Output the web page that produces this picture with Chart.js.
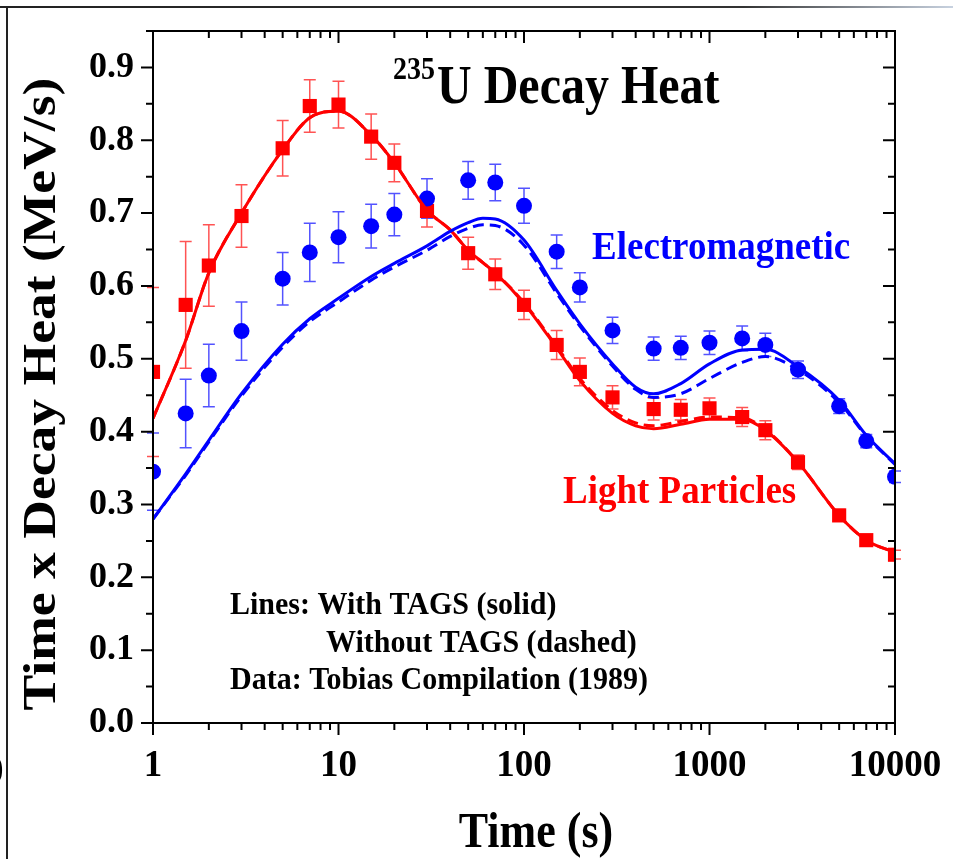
<!DOCTYPE html>
<html>
<head>
<meta charset="utf-8">
<script src="https://cdn.jsdelivr.net/npm/chart.js@4.4.1/dist/chart.umd.min.js"></script>
<style>
  html, body { margin: 0; padding: 0; background: #fff; }
  #wrap { width: 953px; height: 859px; }
</style>
</head>
<body>
<div id="wrap"><canvas id="decayChart" width="953" height="859"></canvas></div>
<script>
// Data points (Tobias compilation)
const dataTimes = [1, 1.5, 2, 3, 5, 7, 10, 15, 20, 30, 50, 70, 100, 150, 200, 300, 500, 700, 1000, 1500, 2000, 3000, 5000, 7000, 10000];
const lightValues = [0.482, 0.574, 0.628, 0.696, 0.789, 0.847, 0.849, 0.805, 0.769, 0.703, 0.645, 0.616, 0.574, 0.519, 0.482, 0.447, 0.431, 0.430, 0.432, 0.420, 0.402, 0.358, 0.285, 0.251, 0.231];
const lightErrors = [0.116, 0.087, 0.056, 0.043, 0.038, 0.036, 0.032, 0.031, 0.026, 0.022, 0.022, 0.021, 0.020, 0.020, 0.019, 0.016, 0.015, 0.014, 0.014, 0.013, 0.013, 0.010, 0.008, 0.007, 0.006];
const emValues = [0.345, 0.425, 0.477, 0.538, 0.610, 0.646, 0.667, 0.682, 0.698, 0.720, 0.745, 0.742, 0.710, 0.647, 0.598, 0.539, 0.514, 0.515, 0.522, 0.528, 0.519, 0.485, 0.435, 0.387, 0.338];
const emErrors = [0.053, 0.047, 0.043, 0.040, 0.036, 0.040, 0.035, 0.030, 0.029, 0.027, 0.026, 0.025, 0.024, 0.023, 0.020, 0.018, 0.016, 0.016, 0.016, 0.017, 0.016, 0.012, 0.010, 0.009, 0.008];

// Calculated curves
const curveTimes = [1, 1.5, 2, 3, 5, 7, 10, 15, 20, 30, 40, 50, 60, 70, 100, 150, 200, 300, 400, 500, 700, 1000, 1500, 2000, 3000, 5000, 7000, 10000];
const lightSolid = [0.418, 0.525, 0.618, 0.700, 0.787, 0.831, 0.840, 0.807, 0.769, 0.704, 0.677, 0.649, 0.632, 0.618, 0.576, 0.515, 0.470, 0.425, 0.408, 0.404, 0.410, 0.417, 0.417, 0.402, 0.358, 0.285, 0.251, 0.234];
const lightDashed = [0.418, 0.525, 0.618, 0.700, 0.787, 0.831, 0.840, 0.807, 0.769, 0.704, 0.677, 0.649, 0.632, 0.618, 0.577, 0.517, 0.473, 0.429, 0.412, 0.408, 0.414, 0.420, 0.419, 0.403, 0.358, 0.285, 0.251, 0.234];
const emSolid = [0.280, 0.342, 0.388, 0.452, 0.520, 0.555, 0.583, 0.613, 0.631, 0.655, 0.675, 0.687, 0.693, 0.692, 0.663, 0.594, 0.548, 0.493, 0.461, 0.452, 0.466, 0.493, 0.512, 0.513, 0.489, 0.443, 0.395, 0.356];
const emDashed = [0.280, 0.340, 0.386, 0.449, 0.516, 0.551, 0.578, 0.608, 0.626, 0.649, 0.668, 0.679, 0.684, 0.683, 0.656, 0.590, 0.545, 0.490, 0.458, 0.447, 0.452, 0.473, 0.495, 0.503, 0.485, 0.440, 0.394, 0.355];

// Axis ticks
const xTickValues = [1, 10, 100, 1000, 10000];
const xTickLabels = ['1', '10', '100', '1000', '10000'];
const yTickValues = [0, 0.1, 0.2, 0.3, 0.4, 0.5, 0.6, 0.7, 0.8, 0.9];
const yTickLabels = ['0.0', '0.1', '0.2', '0.3', '0.4', '0.5', '0.6', '0.7', '0.8', '0.9'];

const RED = '#ff0000';
const BLUE = '#0000ff';
const SERIF = '"Liberation Serif", "Times New Roman", serif';

const toPoints = (xs, ys) => xs.map((x, i) => ({ x: x, y: ys[i] }));

// draws text slightly stretched vertically, like the original figure
function tallText(ctx, str, x, y, size, color, stretch) {
    ctx.save();
    ctx.translate(x, y);
    ctx.scale(1, stretch);
    ctx.font = 'bold ' + size + 'px ' + SERIF;
    ctx.fillStyle = color;
    ctx.fillText(str, 0, 0);
    ctx.restore();
}

// error bars, frame, tick marks and text labels
const decorPlugin = {
    id: 'decor',
    beforeDatasetsDraw(chart) {
        const ctx = chart.ctx;
        const yScale = chart.scales.y;
        chart.data.datasets.forEach((ds, i) => {
            if (!ds.errors) return;
            const meta = chart.getDatasetMeta(i);
            ctx.save();
            ctx.strokeStyle = ds.errorColor;
            ctx.lineWidth = 1.5;
            meta.data.forEach((pt, j) => {
                const v = ds.data[j].y;
                const e = ds.errors[j];
                const top = yScale.getPixelForValue(v + e);
                const bot = yScale.getPixelForValue(v - e);
                ctx.beginPath();
                ctx.moveTo(pt.x, top); ctx.lineTo(pt.x, bot);
                ctx.moveTo(pt.x - 6, top); ctx.lineTo(pt.x + 6, top);
                ctx.moveTo(pt.x - 6, bot); ctx.lineTo(pt.x + 6, bot);
                ctx.stroke();
            });
            ctx.restore();
        });
    },
    afterDraw(chart) {
        const ctx = chart.ctx;
        const a = chart.chartArea;
        const xs = chart.scales.x;
        const ys = chart.scales.y;
        ctx.save();

        // outer figure lines
        const grad = ctx.createLinearGradient(0, 0, 953, 0);
        grad.addColorStop(0, '#222');
        grad.addColorStop(0.78, '#333');
        grad.addColorStop(1, '#c8d2e0');
        ctx.strokeStyle = grad;
        ctx.lineWidth = 2;
        ctx.beginPath(); ctx.moveTo(0, 7); ctx.lineTo(953, 7); ctx.stroke();
        ctx.strokeStyle = '#222';
        ctx.beginPath(); ctx.moveTo(7, 7); ctx.lineTo(7, 859); ctx.stroke();
        ctx.textAlign = 'left';
        ctx.textBaseline = 'alphabetic';
        tallText(ctx, '0', -15, 783, 37, '#000', 1.1);

        // plot frame
        ctx.strokeStyle = '#000';
        ctx.lineWidth = 2;
        ctx.strokeRect(a.left, a.top, a.right - a.left, a.bottom - a.top);

        // x ticks: outward at bottom, inward at top
        ctx.beginPath();
        for (let d = 1; d <= 1000; d *= 10) {
            for (let m = 1; m <= 10; m++) {
                const px = xs.getPixelForValue(d * m);
                const len = (m === 1 || m === 10) ? 12 : 7;
                ctx.moveTo(px, a.bottom); ctx.lineTo(px, a.bottom + len);
                ctx.moveTo(px, a.top); ctx.lineTo(px, a.top + len);
            }
        }
        // y ticks: outward at left, inward at right
        for (let k = 0; k <= 19; k++) {
            const py = ys.getPixelForValue(k * 0.05);
            const len = (k % 2 === 0) ? 12 : 7;
            ctx.moveTo(a.left, py); ctx.lineTo(a.left - len, py);
            ctx.moveTo(a.right, py); ctx.lineTo(a.right - len, py);
        }
        ctx.stroke();

        // axis titles
        ctx.save();
        ctx.translate(43, 394);
        ctx.rotate(-Math.PI / 2);
        ctx.scale(1.14, 1);
        ctx.font = 'bold 47px ' + SERIF;
        ctx.fillStyle = '#000';
        ctx.textAlign = 'center';
        ctx.textBaseline = 'middle';
        ctx.fillText('Time x Decay Heat (MeV/s)', 0, 0);
        ctx.restore();

        ctx.save();
        ctx.textAlign = 'center';
        tallText(ctx, 'Time (s)', 536, 847, 44, '#000', 1.15);
        ctx.restore();

        // title
        tallText(ctx, '235', 393, 79, 28, '#000', 1.12);
        tallText(ctx, 'U Decay Heat', 437, 103, 48, '#000', 1.15);

        // series labels
        tallText(ctx, 'Electromagnetic', 592, 259, 37, BLUE, 1.1);
        tallText(ctx, 'Light Particles', 563, 503, 37, RED, 1.1);

        // note
        tallText(ctx, 'Lines: With TAGS (solid)', 230, 614, 30, '#000', 1.03);
        tallText(ctx, 'Without TAGS (dashed)', 326, 652, 30, '#000', 1.03);
        tallText(ctx, 'Data: Tobias Compilation (1989)', 230, 689, 30, '#000', 1.03);

        ctx.restore();
    }
};

const ctx = document.getElementById('decayChart').getContext('2d');

new Chart(ctx, {
    type: 'scatter',
    data: {
        datasets: [
            {
                label: 'EM without TAGS',
                data: toPoints(curveTimes, emDashed),
                showLine: true,
                borderColor: BLUE,
                borderWidth: 3,
                borderDash: [11, 6],
                pointRadius: 0,
                cubicInterpolationMode: 'monotone',
                clip: 0
            },
            {
                label: 'EM with TAGS',
                data: toPoints(curveTimes, emSolid),
                showLine: true,
                borderColor: BLUE,
                borderWidth: 3,
                pointRadius: 0,
                cubicInterpolationMode: 'monotone',
                clip: 0
            },
            {
                label: 'LP without TAGS',
                data: toPoints(curveTimes, lightDashed),
                showLine: true,
                borderColor: RED,
                borderWidth: 3,
                borderDash: [11, 6],
                pointRadius: 0,
                cubicInterpolationMode: 'monotone',
                clip: 0
            },
            {
                label: 'LP with TAGS',
                data: toPoints(curveTimes, lightSolid),
                showLine: true,
                borderColor: RED,
                borderWidth: 3,
                pointRadius: 0,
                cubicInterpolationMode: 'monotone',
                clip: 0
            },
            {
                label: 'Electromagnetic',
                data: toPoints(dataTimes, emValues),
                errors: emErrors,
                errorColor: 'rgba(40,40,255,0.8)',
                pointStyle: 'circle',
                pointRadius: 8,
                pointBackgroundColor: BLUE,
                pointBorderWidth: 0,
                clip: 0
            },
            {
                label: 'Light Particles',
                data: toPoints(dataTimes, lightValues),
                errors: lightErrors,
                errorColor: 'rgba(255,40,40,0.8)',
                pointStyle: 'rect',
                pointRadius: 10,
                pointBackgroundColor: RED,
                pointBorderWidth: 0,
                clip: 0
            }
        ]
    },
    options: {
        responsive: false,
        animation: false,
        layout: { padding: { top: 31, right: 58, left: 0, bottom: 0 } },
        plugins: {
            legend: { display: false },
            tooltip: { enabled: false }
        },
        scales: {
            x: {
                type: 'logarithmic',
                position: 'bottom',
                min: 1,
                max: 10000,
                afterBuildTicks: s => { s.ticks = xTickValues.map(v => ({ value: v })); },
                afterFit: s => {
                    s.height = 136;
                    s.paddingLeft = 0; s.paddingRight = 0;
                    s.paddingTop = 0; s.paddingBottom = 0;
                },
                grid: { display: false, drawTicks: false },
                border: { display: false },
                ticks: {
                    autoSkip: false,
                    maxRotation: 0,
                    padding: 25,
                    color: '#000',
                    font: { family: SERIF, size: 37, weight: 'bold', lineHeight: 1 },
                    callback: (v, i) => xTickLabels[i]
                }
            },
            y: {
                position: 'left',
                min: 0,
                max: 0.95,
                afterBuildTicks: s => { s.ticks = yTickValues.map(v => ({ value: v })); },
                afterFit: s => {
                    s.width = 153;
                    s.paddingLeft = 0; s.paddingRight = 0;
                    s.paddingTop = 0; s.paddingBottom = 0;
                },
                grid: { display: false, drawTicks: false },
                border: { display: false },
                ticks: {
                    padding: 19,
                    color: '#000',
                    font: { family: SERIF, size: 36, weight: 'bold', lineHeight: 1 },
                    callback: (v, i) => yTickLabels[i]
                }
            }
        }
    },
    plugins: [decorPlugin]
});
</script>
</body>
</html>
